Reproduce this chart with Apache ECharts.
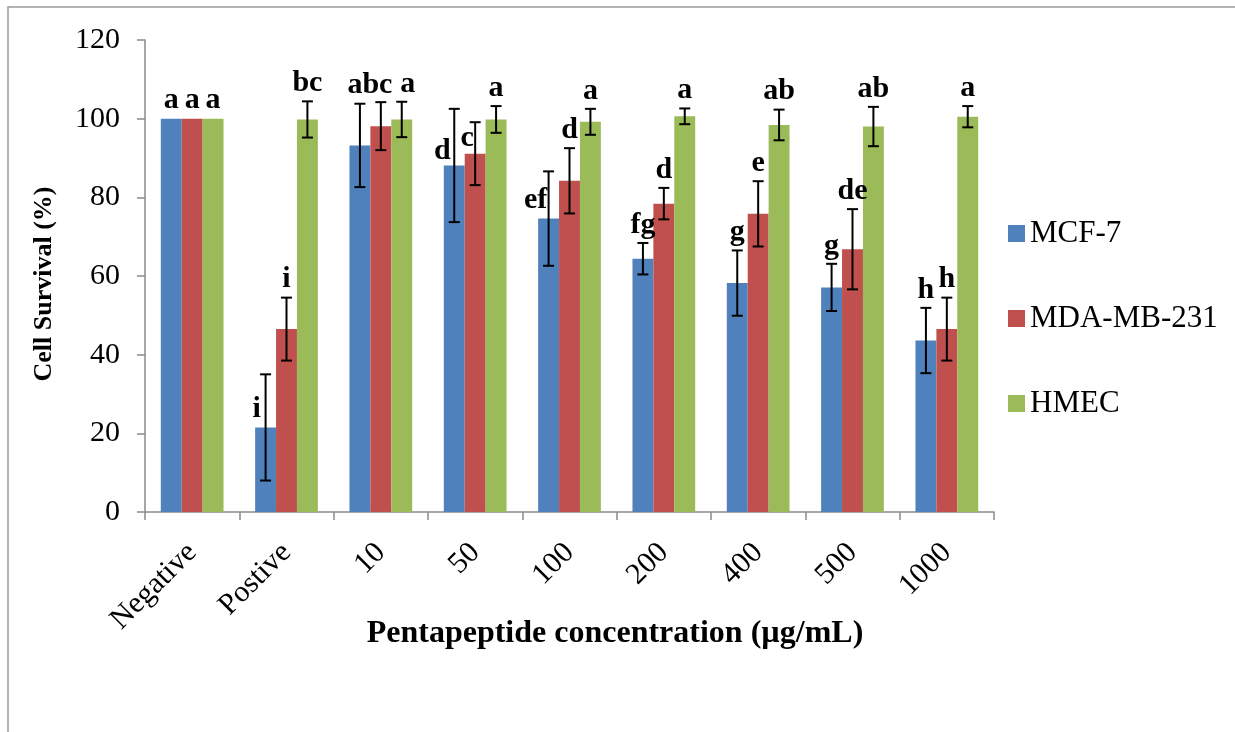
<!DOCTYPE html>
<html>
<head>
<meta charset="utf-8">
<script src="https://cdn.jsdelivr.net/npm/echarts@6/dist/echarts.min.js"></script>
<style>
  html, body { margin: 0; padding: 0; background: #ffffff; }
  #chart { width: 1235px; height: 732px; }
</style>
</head>
<body>
<div id="chart"></div>
<script>
// Treatment groups along the x axis
const categories = ['Negative', 'Postive', '10', '50', '100', '200', '400', '500', '1000'];
const seriesNames = ['MCF-7', 'MDA-MB-231', 'HMEC'];

// Mean cell survival (%) and standard deviation per cell line
const mcf7      = [100, 21.5, 93.2, 88.1, 74.6, 64.4, 58.2, 57.1, 43.6];
const mcf7Err   = [0, 13.5, 10.6, 14.4, 12.0, 4.0, 8.3, 6.0, 8.3];
const mda       = [100, 46.5, 98.1, 91.1, 84.2, 78.4, 75.8, 66.8, 46.5];
const mdaErr    = [0, 8.0, 6.1, 8.0, 8.3, 4.0, 8.3, 10.2, 8.0];
const hmec      = [100, 99.8, 99.8, 99.8, 99.2, 100.6, 98.4, 98.0, 100.5];
const hmecErr   = [0, 4.6, 4.5, 3.4, 3.3, 2.0, 3.9, 5.0, 2.7];

// Significance letters (Duncan grouping)
const mcf7Letters = ['a', 'i', 'abc', 'd', 'ef', 'fg', 'g', 'g', 'h'];
const mdaLetters  = ['a', 'i', '', 'c', 'd', 'd', 'e', 'de', 'h'];
const hmecLetters = ['a', 'bc', 'a', 'a', 'a', 'a', 'ab', 'ab', 'a'];

// Value axis
const yMin = 0, yMax = 120, yStep = 20;

const colors = ['#4F81BD', '#C0504D', '#9BBB59'];
const means = [mcf7, mda, hmec];
const errs = [mcf7Err, mdaErr, hmecErr];
const letters = [mcf7Letters, mdaLetters, hmecLetters];

const FONT = '"Liberation Serif", "Times New Roman", serif';
const CAT_GAP = 0.335;   // share of a category left empty between groups

// Letters that sit beside the bar instead of above the error bar
const letterPlacement = {
  '0-1': { dx: -9, anchor: 'mean' },
  '0-2': { dx: 10 },
  '0-3': { dx: -12, anchor: 'mean', dy: 4 },
  '1-3': { dx: -8, anchor: 'mean', dy: 3 },
  '0-4': { dx: -13, anchor: 'mean' },
  '2-2': { dx: 6 }
};

const chart = echarts.init(document.getElementById('chart'), null, { renderer: 'canvas' });

function barSeries(k) {
  return {
    name: seriesNames[k],
    type: 'bar',
    data: means[k],
    barGap: '0%',
    barCategoryGap: (CAT_GAP * 100) + '%',
    itemStyle: { color: colors[k] },
    z: 2
  };
}

function errorSeries(k) {
  return {
    type: 'custom',
    data: means[k].map((m, i) => [i, m, errs[k][i]]),
    z: 5,
    silent: true,
    renderItem: function (params, api) {
      const ci = api.value(0), m = api.value(1), e = api.value(2);
      const catW = api.size([1, 0])[0];
      const bw = catW * (1 - CAT_GAP) / 3;
      const cx = api.coord([ci, 0])[0] + (k - 1) * bw;
      const yHi = api.coord([ci, m + e])[1];
      const yLo = api.coord([ci, m - e])[1];
      const yMean = api.coord([ci, m])[1];
      const cap = 5.5;
      const style = { stroke: '#000', lineWidth: 2 };
      const children = [];
      if (e > 0) {
        children.push({ type: 'line', shape: { x1: cx, y1: yHi, x2: cx, y2: yLo }, style: style });
        children.push({ type: 'line', shape: { x1: cx - cap, y1: yHi, x2: cx + cap, y2: yHi }, style: style });
        children.push({ type: 'line', shape: { x1: cx - cap, y1: yLo, x2: cx + cap, y2: yLo }, style: style });
      }
      const txt = letters[k][params.dataIndex];
      if (txt) {
        const p = letterPlacement[k + '-' + params.dataIndex] || {};
        const base = p.anchor === 'mean' ? yMean : yHi;
        children.push({
          type: 'text',
          x: cx + (p.dx || 0),
          y: base - 3 + (p.dy || 0),
          style: {
            text: txt,
            fill: '#000',
            font: 'bold 30px ' + FONT,
            align: 'center',
            verticalAlign: 'bottom'
          }
        });
      }
      return { type: 'group', children: children };
    }
  };
}

const option = {
  animation: false,
  backgroundColor: '#ffffff',
  grid: { left: 145, right: 241, top: 40, bottom: 220, containLabel: false },
  legend: {
    data: seriesNames,
    orient: 'vertical',
    left: 1008,
    top: 218,
    icon: 'rect',
    itemWidth: 17,
    itemHeight: 17,
    itemGap: 54,
    padding: 0,
    selectedMode: false,
    textStyle: { fontFamily: FONT, fontSize: 31, color: '#000', lineHeight: 31 }
  },
  xAxis: {
    type: 'category',
    data: categories,
    axisLine: { lineStyle: { color: '#8a8a8a', width: 1.5 } },
    axisTick: { show: true, length: 8, lineStyle: { color: '#8a8a8a', width: 1.5 }, alignWithLabel: false },
    axisLabel: { rotate: 45, fontFamily: FONT, fontSize: 30, color: '#000', margin: 36, interval: 0 },
    splitLine: { show: false }
  },
  yAxis: {
    type: 'value',
    min: yMin,
    max: yMax,
    interval: yStep,
    axisLine: { show: true, lineStyle: { color: '#8a8a8a', width: 1.5 } },
    axisTick: { show: true, length: 8, lineStyle: { color: '#8a8a8a', width: 1.5 } },
    axisLabel: { fontFamily: FONT, fontSize: 30, color: '#000', margin: 25 },
    splitLine: { show: false }
  },
  graphic: [
    {
      type: 'rect',
      shape: { x: 8, y: 7, width: 1300, height: 800 },
      style: { fill: 'none', stroke: '#9a9a9a', lineWidth: 1.5 },
      silent: true
    },
    {
      type: 'text',
      x: 615,
      y: 634,
      style: {
        text: 'Pentapeptide concentration (µg/mL)',
        font: 'bold 32px ' + FONT,
        fill: '#000',
        align: 'center',
        verticalAlign: 'middle'
      }
    },
    {
      type: 'text',
      x: 44,
      y: 284,
      rotation: Math.PI / 2,
      style: {
        text: 'Cell Survival (%)',
        font: 'bold 26px ' + FONT,
        fill: '#000',
        align: 'center',
        verticalAlign: 'middle'
      }
    }
  ],
  series: [barSeries(0), barSeries(1), barSeries(2), errorSeries(0), errorSeries(1), errorSeries(2)]
};

chart.setOption(option);
</script>
</body>
</html>
